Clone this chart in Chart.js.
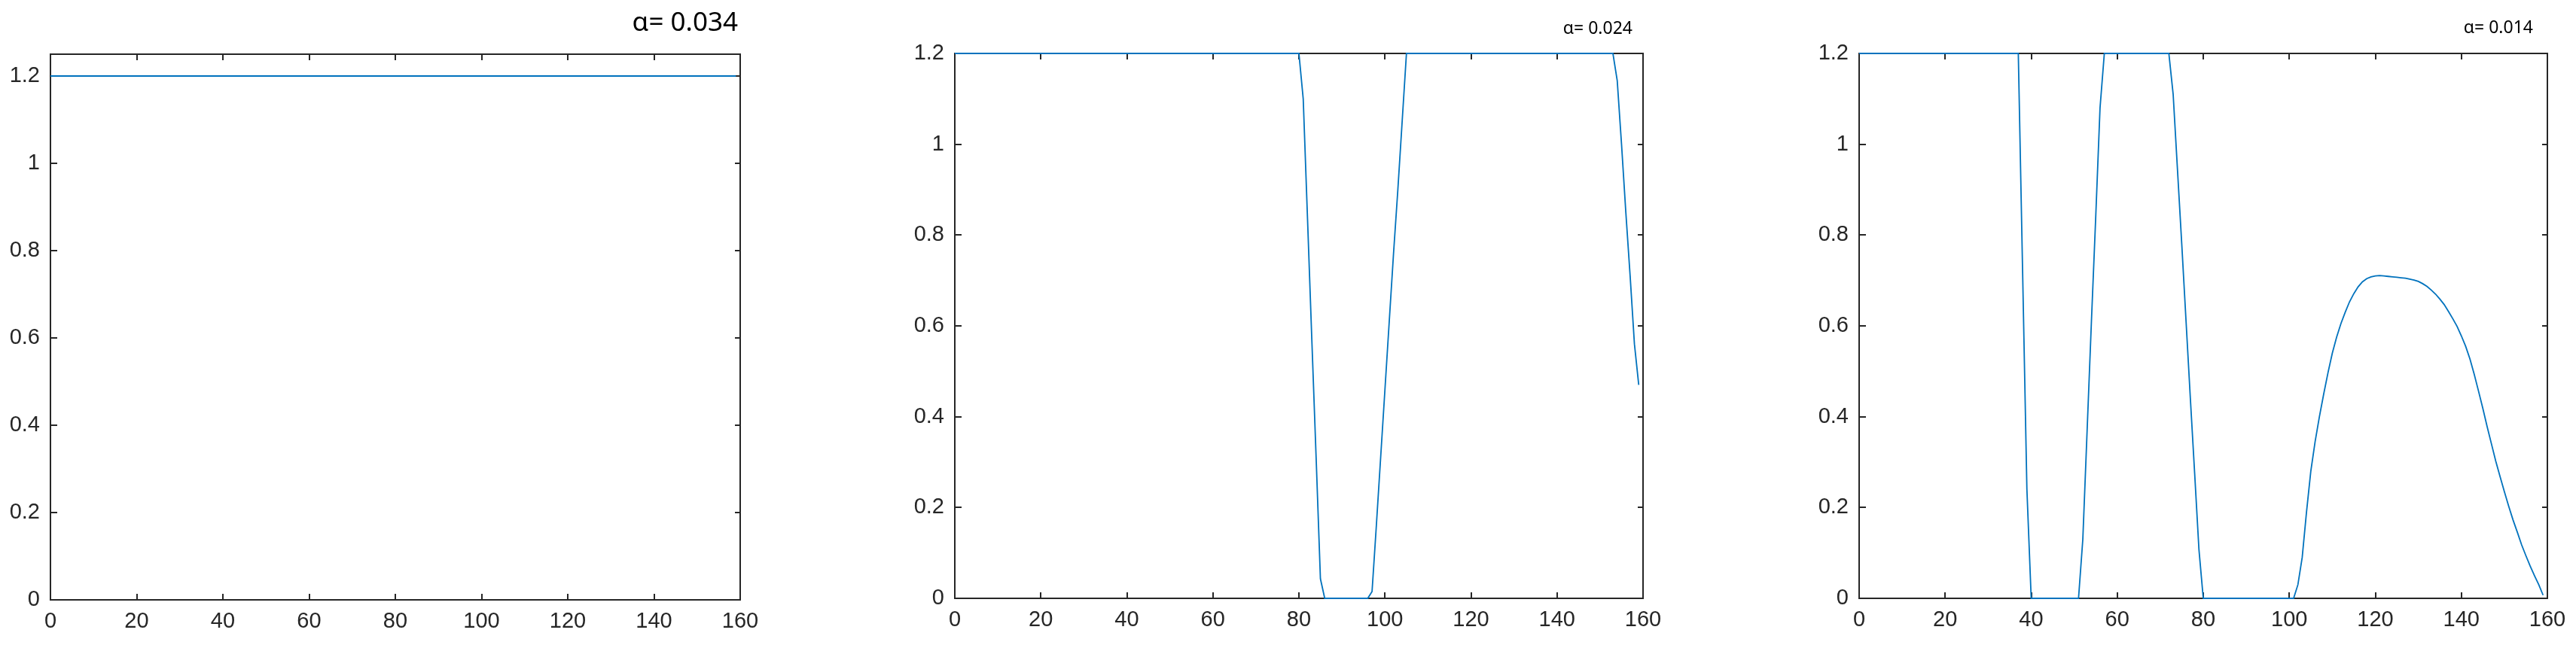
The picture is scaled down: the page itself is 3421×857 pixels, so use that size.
<!DOCTYPE html>
<html>
<head>
<meta charset="utf-8">
<script src="https://cdn.jsdelivr.net/npm/chart.js@4.4.1/dist/chart.umd.min.js"></script>
<style>
  html, body { margin: 0; padding: 0; background: #fff; }
  body { width: 3421px; height: 857px; position: relative; overflow: hidden; }
  canvas.panel { position: absolute; top: 0; }
</style>
</head>
<body>
<canvas id="c1" class="panel"></canvas>
<canvas id="c2" class="panel"></canvas>
<canvas id="c3" class="panel"></canvas>
<script>
// sample index (x) and the three curves
const sampleX = [
  0, 1, 2, 3, 4, 5, 6, 7, 8, 9, 10, 11, 12, 13, 14, 15, 16, 17, 18, 19,
  20, 21, 22, 23, 24, 25, 26, 27, 28, 29, 30, 31, 32, 33, 34, 35, 36, 37, 38, 39,
  40, 41, 42, 43, 44, 45, 46, 47, 48, 49, 50, 51, 52, 53, 54, 55, 56, 57, 58, 59,
  60, 61, 62, 63, 64, 65, 66, 67, 68, 69, 70, 71, 72, 73, 74, 75, 76, 77, 78, 79,
  80, 81, 82, 83, 84, 85, 86, 87, 88, 89, 90, 91, 92, 93, 94, 95, 96, 97, 98, 99,
  100, 101, 102, 103, 104, 105, 106, 107, 108, 109, 110, 111, 112, 113, 114, 115, 116, 117, 118, 119,
  120, 121, 122, 123, 124, 125, 126, 127, 128, 129, 130, 131, 132, 133, 134, 135, 136, 137, 138, 139,
  140, 141, 142, 143, 144, 145, 146, 147, 148, 149, 150, 151, 152, 153, 154, 155, 156, 157, 158, 159
];

const uAlpha034 = [
  1.2, 1.2, 1.2, 1.2, 1.2, 1.2, 1.2, 1.2, 1.2, 1.2, 1.2, 1.2, 1.2, 1.2, 1.2, 1.2, 1.2, 1.2, 1.2, 1.2,
  1.2, 1.2, 1.2, 1.2, 1.2, 1.2, 1.2, 1.2, 1.2, 1.2, 1.2, 1.2, 1.2, 1.2, 1.2, 1.2, 1.2, 1.2, 1.2, 1.2,
  1.2, 1.2, 1.2, 1.2, 1.2, 1.2, 1.2, 1.2, 1.2, 1.2, 1.2, 1.2, 1.2, 1.2, 1.2, 1.2, 1.2, 1.2, 1.2, 1.2,
  1.2, 1.2, 1.2, 1.2, 1.2, 1.2, 1.2, 1.2, 1.2, 1.2, 1.2, 1.2, 1.2, 1.2, 1.2, 1.2, 1.2, 1.2, 1.2, 1.2,
  1.2, 1.2, 1.2, 1.2, 1.2, 1.2, 1.2, 1.2, 1.2, 1.2, 1.2, 1.2, 1.2, 1.2, 1.2, 1.2, 1.2, 1.2, 1.2, 1.2,
  1.2, 1.2, 1.2, 1.2, 1.2, 1.2, 1.2, 1.2, 1.2, 1.2, 1.2, 1.2, 1.2, 1.2, 1.2, 1.2, 1.2, 1.2, 1.2, 1.2,
  1.2, 1.2, 1.2, 1.2, 1.2, 1.2, 1.2, 1.2, 1.2, 1.2, 1.2, 1.2, 1.2, 1.2, 1.2, 1.2, 1.2, 1.2, 1.2, 1.2,
  1.2, 1.2, 1.2, 1.2, 1.2, 1.2, 1.2, 1.2, 1.2, 1.2, 1.2, 1.2, 1.2, 1.2, 1.2, 1.2, 1.2, 1.2, 1.2, 1.2
];

const uAlpha024 = [
  1.2, 1.2, 1.2, 1.2, 1.2, 1.2, 1.2, 1.2, 1.2, 1.2, 1.2, 1.2, 1.2, 1.2, 1.2, 1.2, 1.2, 1.2, 1.2, 1.2,
  1.2, 1.2, 1.2, 1.2, 1.2, 1.2, 1.2, 1.2, 1.2, 1.2, 1.2, 1.2, 1.2, 1.2, 1.2, 1.2, 1.2, 1.2, 1.2, 1.2,
  1.2, 1.2, 1.2, 1.2, 1.2, 1.2, 1.2, 1.2, 1.2, 1.2, 1.2, 1.2, 1.2, 1.2, 1.2, 1.2, 1.2, 1.2, 1.2, 1.2,
  1.2, 1.2, 1.2, 1.2, 1.2, 1.2, 1.2, 1.2, 1.2, 1.2, 1.2, 1.2, 1.2, 1.2, 1.2, 1.2, 1.2, 1.2, 1.2, 1.2,
  1.2, 1.10, 0.836, 0.57, 0.31, 0.043, 0, 0, 0, 0, 0, 0, 0, 0, 0, 0, 0, 0.015, 0.16, 0.31,
  0.46, 0.61, 0.76, 0.90, 1.05, 1.2, 1.2, 1.2, 1.2, 1.2, 1.2, 1.2, 1.2, 1.2, 1.2, 1.2, 1.2, 1.2, 1.2, 1.2,
  1.2, 1.2, 1.2, 1.2, 1.2, 1.2, 1.2, 1.2, 1.2, 1.2, 1.2, 1.2, 1.2, 1.2, 1.2, 1.2, 1.2, 1.2, 1.2, 1.2,
  1.2, 1.2, 1.2, 1.2, 1.2, 1.2, 1.2, 1.2, 1.2, 1.2, 1.2, 1.2, 1.2, 1.2, 1.14, 1.0, 0.85, 0.71, 0.56, 0.47
];

const uAlpha014 = [
  1.2, 1.2, 1.2, 1.2, 1.2, 1.2, 1.2, 1.2, 1.2, 1.2, 1.2, 1.2, 1.2, 1.2, 1.2, 1.2, 1.2, 1.2, 1.2, 1.2,
  1.2, 1.2, 1.2, 1.2, 1.2, 1.2, 1.2, 1.2, 1.2, 1.2, 1.2, 1.2, 1.2, 1.2, 1.2, 1.2, 1.2, 1.2, 0.72, 0.24,
  0, 0, 0, 0, 0, 0, 0, 0, 0, 0, 0, 0, 0.13, 0.37, 0.61, 0.84, 1.08, 1.2, 1.2, 1.2,
  1.2, 1.2, 1.2, 1.2, 1.2, 1.2, 1.2, 1.2, 1.2, 1.2, 1.2, 1.2, 1.2, 1.11, 0.945, 0.78, 0.61, 0.44, 0.275, 0.107,
  0, 0, 0, 0, 0, 0, 0, 0, 0, 0, 0, 0, 0, 0, 0, 0, 0, 0, 0, 0,
  0, 0, 0.03, 0.09, 0.19, 0.28, 0.345, 0.40, 0.45, 0.497, 0.54, 0.575, 0.605, 0.63, 0.653, 0.671, 0.686, 0.697, 0.704, 0.708,
  0.71, 0.711, 0.71, 0.709, 0.708, 0.707, 0.706, 0.705, 0.703, 0.701, 0.698, 0.693, 0.687, 0.679, 0.67, 0.659, 0.647, 0.632, 0.616, 0.599,
  0.578, 0.555, 0.527, 0.493, 0.456, 0.418, 0.378, 0.34, 0.302, 0.268, 0.235, 0.203, 0.173, 0.146, 0.118, 0.094, 0.071, 0.05, 0.03, 0.007
];

const xTicks = [0, 20, 40, 60, 80, 100, 120, 140, 160];
const yTicks = [0, 0.2, 0.4, 0.6, 0.8, 1, 1.2];
const titles = ['α= 0.034', 'α= 0.024', 'α= 0.014'];

const AXIS = '#262626';
const LINE = '#0072BD';
const PAGE_H = 857;
const Y_AXIS_W = 67;
const PAD_R = 40;
const TICK = 8;
const tickFont = { family: '"Liberation Sans Narrow", "Arial Narrow", "Liberation Sans", sans-serif', size: 29 };

// plot box of each panel in page pixels
const panels = [
  { id: 'c1', data: uAlpha034, title: titles[0], left: 67, right: 983, top: 72, bottom: 797, yMax: 1.25, titleSize: 35, titleInset: 3, titleY: 31 },
  { id: 'c2', data: uAlpha024, title: titles[1], left: 1268, right: 2182, top: 71, bottom: 795, yMax: 1.2, titleSize: 23, titleInset: 14, titleY: 38 },
  { id: 'c3', data: uAlpha014, title: titles[2], left: 2469, right: 3383, top: 71, bottom: 795, yMax: 1.2, titleSize: 23, titleInset: 19, titleY: 37 },
];

// small label above the top-right corner of the axes
const cornerTitle = {
  id: 'cornerTitle',
  afterDraw(chart, args, opts) {
    const { ctx, chartArea } = chart;
    ctx.save();
    ctx.font = `${opts.size}px "Noto Sans", "Open Sans", sans-serif`;
    ctx.fillStyle = '#000';
    ctx.textAlign = 'right';
    ctx.textBaseline = 'middle';
    ctx.fillText(opts.text, chartArea.right - opts.inset, opts.y);
    ctx.restore();
  }
};

panels.forEach(p => {
  const canvas = document.getElementById(p.id);
  const plotW = p.right - p.left;
  const plotH = p.bottom - p.top;
  canvas.width = plotW + Y_AXIS_W + PAD_R;
  canvas.height = PAGE_H;
  canvas.style.left = (p.left - Y_AXIS_W) + 'px';

  new Chart(canvas, {
    type: 'line',
    data: {
      labels: sampleX,
      datasets: [{ data: p.data, borderColor: LINE, borderWidth: 1.8, pointRadius: 0, tension: 0, fill: false, clip: 4 }]
    },
    options: {
      responsive: false,
      animation: false,
      events: [],
      layout: { padding: { top: p.top, right: PAD_R, bottom: 0, left: 0 } },
      plugins: {
        legend: { display: false },
        tooltip: { enabled: false },
        cornerTitle: { text: p.title, size: p.titleSize, inset: p.titleInset, y: p.titleY }
      },
      scales: {
        x: {
          type: 'linear', position: 'bottom', min: 0, max: 160,
          afterBuildTicks: s => { s.ticks = xTicks.map(v => ({ value: v })); },
          afterFit: s => { s.height = PAGE_H - p.bottom; },
          grid: { color: AXIS, lineWidth: 2, drawTicks: false },
          border: { color: AXIS, width: 2, dash: [TICK, plotH - 2 * TICK] },
          ticks: { color: AXIS, font: tickFont, padding: 12, maxRotation: 0, autoSkip: false, callback: v => String(v) }
        },
        y: {
          type: 'linear', position: 'left', min: 0, max: p.yMax,
          afterBuildTicks: s => { s.ticks = yTicks.map(v => ({ value: v })); },
          afterFit: s => { s.width = Y_AXIS_W; },
          grid: { color: AXIS, lineWidth: 2, drawTicks: false },
          border: { color: AXIS, width: 2, dash: [TICK, plotW - 2 * TICK] },
          ticks: { color: AXIS, font: tickFont, padding: 14, callback: v => String(v) }
        },
        xTop: {
          type: 'linear', position: 'top', min: 0, max: 160,
          grid: { display: false }, ticks: { display: false },
          border: { color: AXIS, width: 2 },
          afterFit: s => { s.height = 0; }
        },
        yRight: {
          type: 'linear', position: 'right', min: 0, max: p.yMax,
          grid: { display: false }, ticks: { display: false },
          border: { color: AXIS, width: 2 },
          afterFit: s => { s.width = 0; }
        }
      }
    },
    plugins: [cornerTitle]
  });
});
</script>
</body>
</html>
